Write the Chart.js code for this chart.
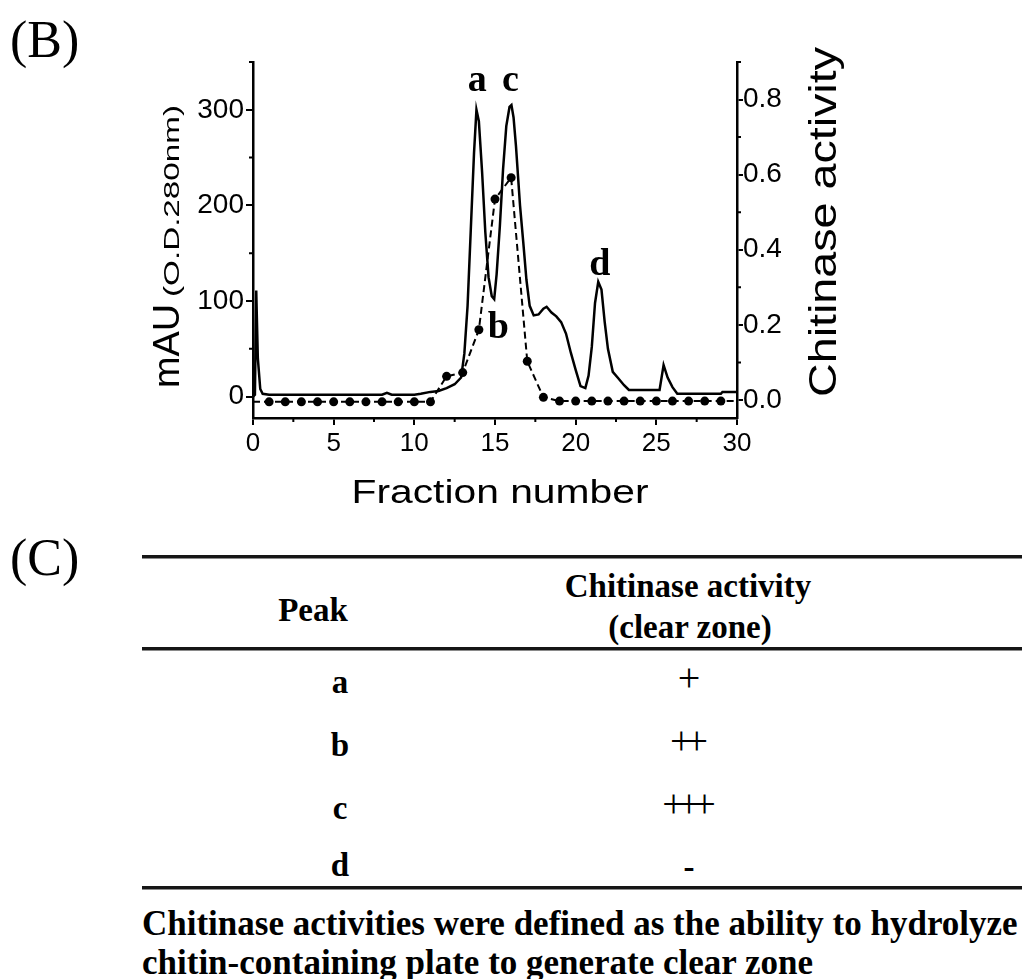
<!DOCTYPE html>
<html>
<head>
<meta charset="utf-8">
<script src="https://cdn.jsdelivr.net/npm/chart.js@4.4.1/dist/chart.umd.min.js"></script>
<style>
  html, body { margin: 0; padding: 0; background: #fff; }
  body { width: 1022px; height: 979px; position: relative; overflow: hidden;
         font-family: "Liberation Serif", "Times New Roman", serif; color: #000; }
  #chartBox { position: absolute; left: 0; top: 0; width: 1022px; height: 530px; }
  .panel { position: absolute; left: 10px; font-size: 52px; line-height: 1; }
  .rule { position: absolute; left: 142px; width: 880px; height: 3px; background: #161616;
          box-shadow: 0 1px 0 #8a8a8a; }
  .cell { position: absolute; font-weight: bold; font-size: 33px; line-height: 1;
          white-space: nowrap; transform: translate(-50%, -50%); }
  .sym { font-weight: normal; font-size: 40px; letter-spacing: -7px; padding-right: 7px; }
  .note { position: absolute; left: 142px; font-weight: bold; font-size: 35px;
          line-height: 39px; white-space: nowrap; }
</style>
</head>
<body>
<div class="panel" style="top:14px">(B)</div>
<div id="chartBox"><canvas id="fplc"></canvas></div>

<div class="panel" style="top:532px">(C)</div>
<div class="rule" style="top:555px"></div>
<div class="cell" style="left:313px; top:610px">Peak</div>
<div class="cell" style="left:688px; top:586px">Chitinase activity</div>
<div class="cell" style="left:690px; top:627px">(clear zone)</div>
<div class="rule" style="top:647px"></div>
<div id="rows"></div>
<div class="rule" style="top:886px"></div>
<div class="note" style="top:904px">Chitinase activities were defined as the ability to hydrolyze</div>
<div class="note" style="top:943px">chitin-containing plate to generate clear zone</div>

<script>
// absorbance trace (solid line), fraction number vs mAU
const absFraction = [0, 0.12, 0.2, 0.3, 0.45, 0.6, 1, 3, 5, 7, 8.0, 8.3, 8.6, 10, 10.4,
  11, 11.5, 12, 12.5, 12.9, 13.1, 13.3, 13.5, 13.7, 13.85, 14.0, 14.2, 14.4, 14.6, 14.8,
  14.95, 15.1, 15.3, 15.5, 15.7, 15.9, 16.02, 16.15, 16.3, 16.55, 16.75, 16.95, 17.15, 17.4, 17.7,
  18.0, 18.2, 18.5, 18.8, 19.1, 19.4, 19.7, 20.0, 20.3, 20.6, 20.8, 21.0, 21.2, 21.4, 21.6,
  21.8, 22.0, 22.3, 22.6, 23.0, 23.3, 25.0, 25.2, 25.45, 25.7, 26.0, 26.3, 29.0, 29.1, 30];
const absorbance = [0, 2, 111, 40, 8, 3, 2, 2, 2, 2, 2, 4, 2, 2, 3,
  5, 6, 9, 13, 20, 45, 95, 175, 255, 300, 288, 235, 172, 125, 105,
  102, 128, 178, 238, 283, 303, 305, 292, 262, 200, 162, 122, 95, 85, 86,
  92, 94, 88, 84, 78, 66, 46, 28, 11, 9, 22, 52, 98, 120, 112,
  78, 50, 26, 20, 12, 7, 7, 7, 33, 20, 10, 3, 3, 5, 5];

// chitinase activity per fraction (dashed line with dots)
const actFraction = [0, 1, 2, 3, 4, 5, 6, 7, 8, 9, 10, 11, 12, 13, 14, 15,
  16, 17, 18, 19, 20, 21, 22, 23, 24, 25, 26, 27, 28, 29, 30];
const activity = [-0.005, -0.005, -0.005, -0.005, -0.005, -0.005, -0.005, -0.005, -0.005, -0.005, -0.005, -0.005,
  0.063, 0.073, 0.187, 0.535, 0.592, 0.103, 0.007, -0.003, -0.003, -0.003, -0.003, -0.003,
  -0.003, -0.003, -0.003, -0.003, -0.003, -0.003, -0.003];

// tick labels
const xTickLabels = [0, 5, 10, 15, 20, 25, 30];
const xMinorTicks = [2.5, 7.5, 12.5, 17.5, 22.5, 27.5];
const leftTickLabels = [0, 100, 200, 300];
const leftMinorTicks = [50, 150, 250, 350];
const rightTickLabels = [0.0, 0.2, 0.4, 0.6, 0.8];
const rightMinorTicks = [0.1, 0.3, 0.5, 0.7, 0.9];

// peak letters, placed at (fraction, mAU)
const peakNames = ['a', 'b', 'c', 'd'];
const peakAtFraction = [13.9, 15.2, 15.95, 21.5];
const peakAtMAU = [330, 72, 330, 138];

// table (C)
const tablePeaks = ['a', 'b', 'c', 'd'];
const tableActivity = ['+', '++', '+++', '-'];

const rowTop = [682, 745, 808, 865];
const rowsEl = document.getElementById('rows');
tablePeaks.forEach((p, i) => {
    const a = document.createElement('div');
    a.className = 'cell';
    a.style.left = '340px';
    a.style.top = rowTop[i] + 'px';
    a.textContent = p;
    rowsEl.appendChild(a);
    const b = document.createElement('div');
    const dash = tableActivity[i] === '-';
    b.className = 'cell' + (dash ? '' : ' sym');
    b.style.left = '689px';
    b.style.top = (rowTop[i] + (dash ? 2 : -4)) + 'px';
    b.textContent = tableActivity[i];
    rowsEl.appendChild(b);
});

// stretch a string along its own direction so it covers `len` px
function drawStretched(ctx, text, font, x, y, angle, len, align) {
    ctx.save();
    ctx.font = font;
    const w = ctx.measureText(text).width;
    ctx.translate(x, y);
    ctx.rotate(angle);
    ctx.scale(len / w, 1);
    ctx.textAlign = align || 'center';
    ctx.textBaseline = 'alphabetic';
    ctx.fillText(text, 0, 0);
    ctx.restore();
}

const sans = '"Liberation Sans", Arial, sans-serif';
const isIn = (arr, v) => arr.some(t => Math.abs(t - v) < 1e-9);

// short minor tick marks (Chart.js only has one tick length per scale)
const minorTicksPlugin = {
    id: 'minorTicks',
    afterDraw(chart) {
        const ctx = chart.ctx;
        const { x, y, y1 } = chart.scales;
        const area = chart.chartArea;
        ctx.save();
        ctx.strokeStyle = '#000';
        ctx.lineWidth = 2;
        ctx.beginPath();
        xMinorTicks.forEach(v => {
            const px = x.getPixelForValue(v);
            ctx.moveTo(px, area.bottom); ctx.lineTo(px, area.bottom + 4);
        });
        leftMinorTicks.forEach(v => {
            const py = y.getPixelForValue(v);
            ctx.moveTo(area.left, py); ctx.lineTo(area.left - 4, py);
        });
        rightMinorTicks.forEach(v => {
            const py = y1.getPixelForValue(v);
            ctx.moveTo(area.right, py); ctx.lineTo(area.right + 4, py);
        });
        ctx.stroke();
        ctx.restore();
    }
};

const titlesPlugin = {
    id: 'titles',
    afterDraw(chart) {
        const ctx = chart.ctx;
        const xs = chart.scales.x, ys = chart.scales.y;
        ctx.save();
        ctx.fillStyle = '#000';
        drawStretched(ctx, 'Fraction number', '34px ' + sans, 500, 503, 0, 297);
        // left title reads bottom to top: "mAU" then "(O.D.280nm)"
        drawStretched(ctx, 'mAU', '36px ' + sans, 179, 388, -Math.PI / 2, 84, 'left');
        drawStretched(ctx, '(O.D.280nm)', '22px ' + sans, 179, 297, -Math.PI / 2, 192, 'left');
        drawStretched(ctx, 'Chitinase activity', '38px ' + sans, 836, 222, -Math.PI / 2, 350);

        ctx.font = 'bold 38px "Liberation Serif", serif';
        ctx.textAlign = 'center';
        ctx.textBaseline = 'middle';
        peakNames.forEach((n, i) => {
            ctx.fillText(n, xs.getPixelForValue(peakAtFraction[i]), ys.getPixelForValue(peakAtMAU[i]));
        });
        ctx.restore();
    }
};

function axisTicks(major, minor) {
    return function (scale) {
        scale.ticks = major.concat(minor).sort((a, b) => a - b).map(v => ({ value: v }));
    };
}

Chart.defaults.font.family = sans;
Chart.defaults.color = '#000';

new Chart(document.getElementById('fplc'), {
    type: 'line',
    data: {
        datasets: [{
            label: 'mAU',
            data: absFraction.map((x, i) => ({ x: x, y: absorbance[i] })),
            yAxisID: 'y',
            borderColor: '#000',
            borderWidth: 2.5,
            pointRadius: 0,
            tension: 0
        }, {
            label: 'Chitinase activity',
            data: actFraction.map((x, i) => ({ x: x, y: activity[i] })),
            yAxisID: 'y1',
            borderColor: '#000',
            borderWidth: 2,
            borderDash: [7, 4],
            pointRadius: c => (c.dataIndex === 0 || c.dataIndex === actFraction.length - 1) ? 0 : 4.5,
            pointBackgroundColor: '#000',
            pointBorderWidth: 0,
            tension: 0
        }]
    },
    options: {
        responsive: true,
        maintainAspectRatio: false,
        animation: false,
        layout: { padding: { top: 62, left: 0, right: 0, bottom: 0 } },
        plugins: { legend: { display: false }, tooltip: { enabled: false } },
        scales: {
            x: {
                type: 'linear',
                min: 0,
                max: 30,
                afterBuildTicks: axisTicks(xTickLabels, xMinorTicks),
                afterFit: s => { s.height = 112; },
                ticks: {
                    callback: v => isIn(xTickLabels, v) ? v : '',
                    font: { size: 26 },
                    maxRotation: 0,
                    autoSkip: false,
                    padding: 3
                },
                grid: {
                    drawOnChartArea: false, tickLength: 7, color: '#000', lineWidth: 2,
                    tickColor: c => isIn(xTickLabels, c.tick.value) ? '#000' : 'rgba(0,0,0,0)'
                },
                border: { display: true, color: '#000', width: 2.5 }
            },
            y: {
                position: 'left',
                min: -22.3,
                max: 350,
                afterBuildTicks: axisTicks(leftTickLabels, leftMinorTicks),
                afterFit: s => { s.width = 253; },
                ticks: {
                    callback: v => isIn(leftTickLabels, v) ? v : '',
                    font: { size: 28 },
                    padding: 2
                },
                grid: {
                    drawOnChartArea: false, tickLength: 7, color: '#000', lineWidth: 2,
                    tickColor: c => isIn(leftTickLabels, c.tick.value) ? '#000' : 'rgba(0,0,0,0)'
                },
                border: { display: true, color: '#000', width: 2.5 }
            },
            y1: {
                position: 'right',
                min: -0.048,
                max: 0.9,
                afterBuildTicks: axisTicks(rightTickLabels, rightMinorTicks),
                afterFit: s => { s.width = 285; },
                ticks: {
                    callback: v => isIn(rightTickLabels, v) ? v.toFixed(1) : '',
                    font: { size: 28 },
                    padding: 0
                },
                grid: {
                    drawOnChartArea: false, tickLength: 6, color: '#000', lineWidth: 2,
                    tickColor: c => isIn(rightTickLabels, c.tick.value) ? '#000' : 'rgba(0,0,0,0)'
                },
                border: { display: true, color: '#000', width: 2.5 }
            }
        }
    },
    plugins: [minorTicksPlugin, titlesPlugin]
});
</script>
</body>
</html>
